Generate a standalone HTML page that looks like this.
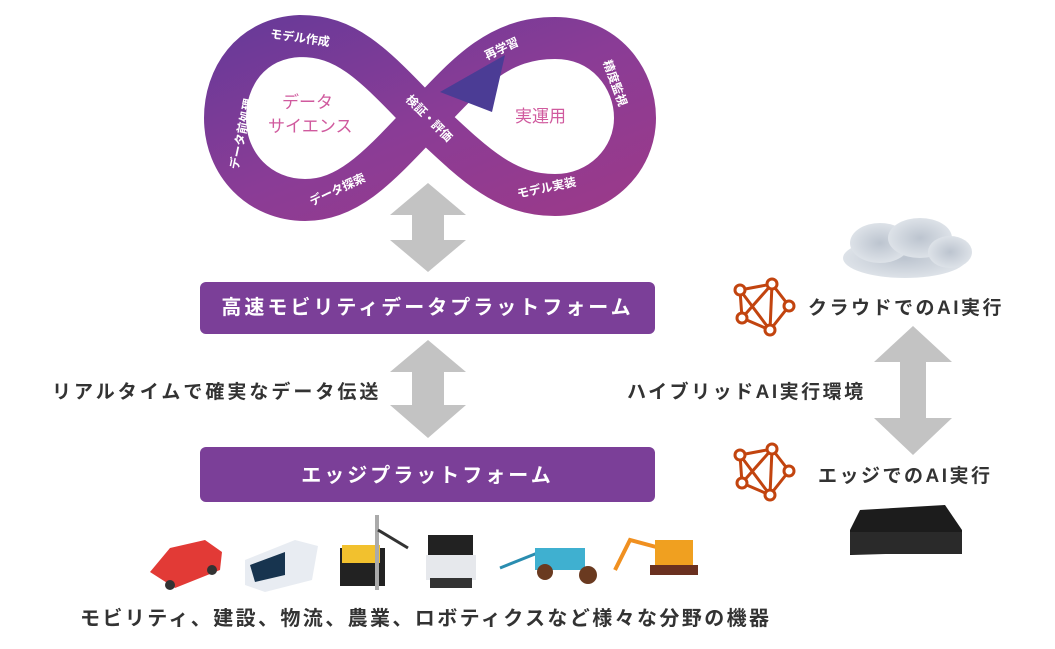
<!DOCTYPE html>
<html><head><meta charset="utf-8"><style>
html,body{margin:0;padding:0;background:#fff;}
body{width:1055px;height:649px;overflow:hidden;position:relative;font-family:"Liberation Sans","Noto Sans CJK JP",sans-serif;}
.t{position:absolute;white-space:nowrap;color:#333;font-weight:bold;}
</style></head><body>
<svg width="1055" height="649" style="position:absolute;left:0;top:0" xmlns="http://www.w3.org/2000/svg">
<defs>
<linearGradient id="g" x1="0" y1="0" x2="1" y2="1">
<stop offset="0" stop-color="#6a3a98"/><stop offset="0.5" stop-color="#8a3c96"/><stop offset="1" stop-color="#9a3a8a"/>
</linearGradient>
<radialGradient id="cl" cx="0.5" cy="0.5" r="0.5"><stop offset="0" stop-color="#bcc4cf"/><stop offset="1" stop-color="#dde2e8"/></radialGradient>
</defs>
<path d="M425 118 C370 60,345 36,300 36 C250 38,225 78,225 118 C225 165,260 200,305 200 C350 200,380 165,425 118 C470 70,500 38,555 38 C605 38,635 78,635 118 C635 160,600 195,555 195 C505 195,475 165,425 118 Z" fill="none" stroke="url(#g)" stroke-width="42"/>
<path d="M505 55 L440 92 L492 112 Z" fill="#4b3c95"/>
<g fill="#fff" font-family="Liberation Sans,Noto Sans CJK JP,sans-serif" font-size="12" font-weight="bold">
<text x="270" y="42" transform="rotate(8 300 38)">モデル作成</text>
<text transform="translate(238 170) rotate(-78)">データ前処理</text>
<text transform="translate(312 206) rotate(-25)">データ探索</text>
<text transform="translate(405 100) rotate(45)">検証・評価</text>
<text transform="translate(487 60) rotate(-25)">再学習</text>
<text transform="translate(603 62) rotate(70)">精度監視</text>
<text transform="translate(518 198) rotate(-12)">モデル実装</text>
</g>
<g fill="#d05a9e" font-family="Liberation Sans,Noto Sans CJK JP,sans-serif" font-size="17">
<text x="282" y="108">データ</text>
<text x="268" y="132">サイエンス</text>
<text x="515" y="122">実運用</text>
</g>
<g fill="#c3c3c3">
<path d="M428 183 L466 215 L444 215 L444 240 L466 240 L428 272 L390 240 L412 240 L412 215 L390 215 Z"/>
<path d="M428 340 L466 372 L444 372 L444 405 L466 405 L428 438 L390 405 L412 405 L412 372 L390 372 Z"/>
<path d="M913 326 L952 362 L926 362 L926 418 L952 418 L913 455 L874 418 L900 418 L900 362 L874 362 Z"/>
</g>
<rect x="200" y="282" width="455" height="52" rx="6" fill="#7b3f98"/>
<rect x="200" y="447" width="455" height="55" rx="6" fill="#7b3f98"/>
<g fill="none" stroke="#c2440f" stroke-width="3">
<g id="n">
<path d="M740 290 L772 284 L789 306 L770 330 L742 318 Z M740 290 L770 330 M772 284 L742 318 M772 284 L770 330"/>
<circle cx="740" cy="290" r="5" fill="#fff"/><circle cx="772" cy="284" r="5" fill="#fff"/><circle cx="789" cy="306" r="5" fill="#fff"/><circle cx="770" cy="330" r="5" fill="#fff"/><circle cx="742" cy="318" r="5" fill="#fff"/>
</g>
<use href="#n" y="165"/>
</g>
<g fill="url(#cl)">
<ellipse cx="905" cy="258" rx="62" ry="20"/><ellipse cx="880" cy="243" rx="30" ry="20"/><ellipse cx="920" cy="238" rx="32" ry="20"/><ellipse cx="950" cy="252" rx="22" ry="16"/>
</g>
<path d="M860 510 L945 505 L962 530 L962 552 L850 555 L850 530 Z" fill="#1c1c1c"/>
<rect x="850" y="532" width="112" height="22" fill="#2a2a2a"/>
<path d="M150 572 L170 548 L205 540 L222 552 L220 570 L175 588 Z" fill="#e23a36"/>
<circle cx="170" cy="585" r="5" fill="#333"/><circle cx="212" cy="570" r="5" fill="#333"/>
<path d="M245 560 L295 540 L318 546 L312 580 L265 592 L245 585 Z" fill="#e8ecf2"/><path d="M250 565 L285 552 L285 575 L255 582 Z" fill="#17344f"/>
<rect x="340" y="548" width="45" height="38" fill="#222"/><rect x="342" y="545" width="38" height="18" fill="#f2c12e"/><rect x="375" y="515" width="4" height="75" fill="#aaa"/><path d="M378 530 L408 548" stroke="#333" stroke-width="3"/>
<rect x="428" y="535" width="45" height="22" fill="#222"/><rect x="426" y="555" width="50" height="25" fill="#e6e8ec"/><rect x="430" y="578" width="42" height="10" fill="#333"/>
<path d="M500 568 L540 552" stroke="#2a8db0" stroke-width="3"/><rect x="535" y="548" width="50" height="22" fill="#3fb0d0"/><circle cx="545" cy="572" r="8" fill="#6a3a20"/><circle cx="588" cy="575" r="9" fill="#6a3a20"/>
<path d="M615 570 L630 540 L660 548" fill="none" stroke="#f09020" stroke-width="4"/><rect x="655" y="540" width="38" height="25" fill="#f0a020"/><rect x="650" y="565" width="48" height="10" fill="#6a3020"/>
</svg>
<div class="t" style="left:200px;top:291px;width:455px;text-align:center;color:#fff;font-size:20px;letter-spacing:3px;">高速モビリティデータプラットフォーム</div>
<div class="t" style="left:200px;top:459px;width:455px;text-align:center;color:#fff;font-size:20px;letter-spacing:3px;">エッジプラットフォーム</div>
<div class="t" style="left:52px;top:377px;font-size:19px;letter-spacing:3px;">リアルタイムで確実なデータ伝送</div>
<div class="t" style="left:627px;top:377px;font-size:19px;letter-spacing:2.5px;">ハイブリッドAI実行環境</div>
<div class="t" style="left:808px;top:293px;font-size:19px;letter-spacing:2.5px;">クラウドでのAI実行</div>
<div class="t" style="left:818px;top:461px;font-size:19px;letter-spacing:2.5px;">エッジでのAI実行</div>
<div class="t" style="left:80px;top:602px;font-size:20px;letter-spacing:2.4px;">モビリティ、建設、物流、農業、ロボティクスなど様々な分野の機器</div>
</body></html>
